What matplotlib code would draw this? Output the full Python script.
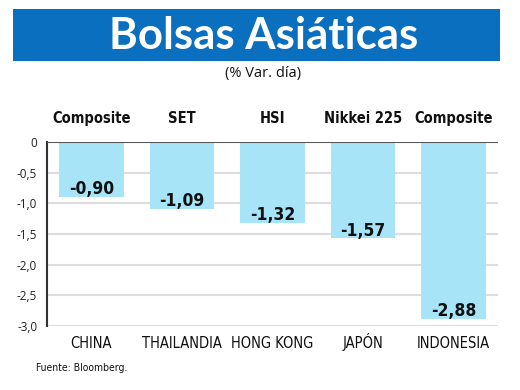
import matplotlib
matplotlib.use("Agg")
import matplotlib.pyplot as plt
from matplotlib.patches import Rectangle

countries = ["CHINA", "THAILANDIA", "HONG KONG", "JAPÓN", "INDONESIA"]
indices = ["Composite", "SET", "HSI", "Nikkei 225", "Composite"]
values = [-0.90, -1.09, -1.32, -1.57, -2.88]
yticks = [0, -0.5, -1.0, -1.5, -2.0, -2.5, -3.0]
ytick_labels = ["0", "-0,5", "-1,0", "-1,5", "-2,0", "-2,5", "-3,0"]

narrow = ["DejaVu Sans"]
W, H = 520, 390
fig = plt.figure(figsize=(5.2, 3.9), dpi=100)
fig.patch.set_facecolor("white")

# Title banner
fig.patches.append(Rectangle((13 / W, 1 - 61 / H), 487 / W, 52 / H,
                             transform=fig.transFigure, facecolor="#0b6fc0",
                             edgecolor="none"))
fig.text(264 / W, 1 - 36 / H, "Bolsas Asiáticas", color="white", fontsize=31.5,
         fontweight="bold", family=["Lato", "DejaVu Sans"], ha="center", va="center")
fig.text(263 / W, 1 - 74 / H, "(% Var. día)", color="#111111", fontsize=10.5,
         family=["Open Sans", "DejaVu Sans"], ha="center", va="center")

ax = fig.add_axes([47 / W, 1 - 326 / H, 451 / W, 184 / H])
x = list(range(len(values)))
ax.bar(x, values, width=0.71, color="#a8e4f8", zorder=2)
ax.set_xlim(-0.49, 4.49)
ax.set_ylim(-3.0, 0)
ax.set_yticks(yticks)
ax.set_yticklabels(ytick_labels, family=["Open Sans", "DejaVu Sans"], fontsize=8.5, color="#222222")
ax.set_xticks(x)
ax.set_xticklabels([])
ax.tick_params(axis="both", length=0)
ax.tick_params(axis="y", pad=7)
for yv in yticks[1:]:
    ax.axhline(yv, color="#dddddd", linewidth=1.5, zorder=1)
ax.axhline(0, color="#555555", linewidth=1.5, zorder=3)
for s in ["top", "right", "bottom"]:
    ax.spines[s].set_visible(False)
ax.spines["left"].set_color("#333333")
ax.spines["left"].set_linewidth(1.5)

for xi, v, name, country in zip(x, values, indices, countries):
    ax.annotate(f"{v:.2f}".replace(".", ","), (xi, v), xytext=(0, 2),
                textcoords="offset points", ha="center", va="baseline",
                fontsize=12.5, fontweight="bold", family=narrow, fontstretch="condensed",
                color="#111111", zorder=4)
    ax.annotate(name, (xi, 0), xytext=(0, 14), textcoords="offset points",
                ha="center", va="baseline", fontsize=10.5, fontweight="bold",
                family=narrow, fontstretch="condensed", color="#111111")
    ax.annotate(country, (xi, 0), xycoords=("data", "axes fraction"), xytext=(0, -16),
                textcoords="offset points", ha="center", va="baseline", fontsize=10.5,
                family=narrow, fontstretch="condensed", color="#111111")

fig.text(36 / W, 1 - 368 / H, "Fuente: Bloomberg.", fontsize=7.5, family=narrow,
         fontstretch="condensed", color="#111111", ha="left", va="center")

fig.savefig("out.png", dpi=100, facecolor="white")
